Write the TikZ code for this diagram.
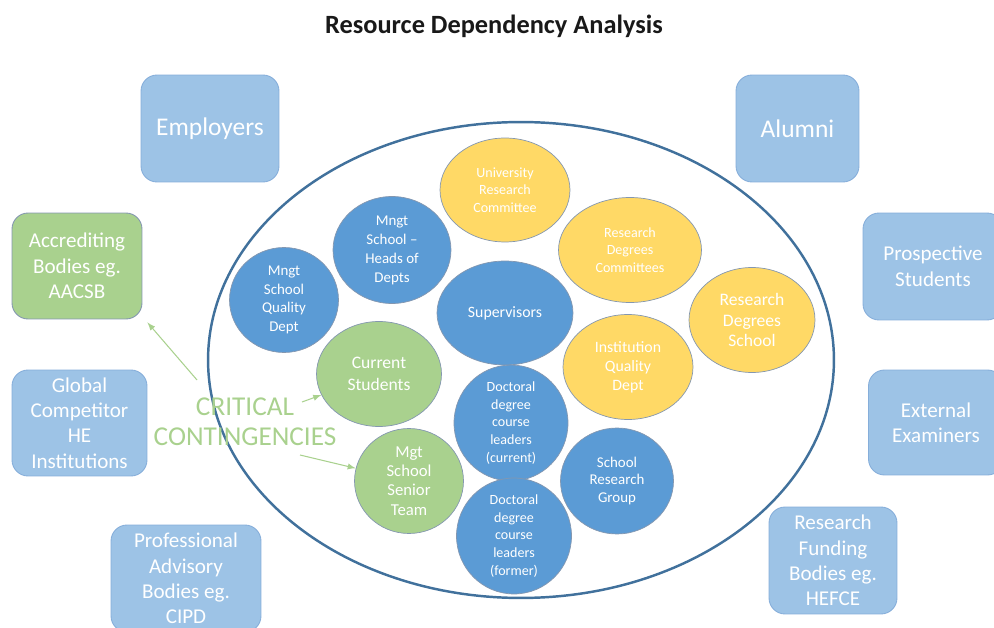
\documentclass[tikz,border=0pt]{standalone}
\usepackage{fontspec}
\setmainfont{Carlito}
\usetikzlibrary{shapes.geometric}
\definecolor{boxblue}{HTML}{9DC3E6}
\definecolor{boxline}{HTML}{86AEDA}
\definecolor{midblue}{HTML}{5B9BD5}
\definecolor{darkblue}{HTML}{41719C}
\definecolor{softgreen}{HTML}{A9D18E}
\definecolor{softyellow}{HTML}{FFD966}
\definecolor{rimline}{HTML}{8497B0}

\begin{document}
\begin{tikzpicture}[
        x=0.02cm, y=-0.02cm,
        party/.style={rectangle, rounded corners=0.32cm, fill=boxblue, draw=boxline,
            line width=0.5pt, text=white, align=center, inner sep=0pt,
            minimum height=2.14cm, font=\fontsize{12}{14.5}\selectfont},
        unit/.style={ellipse, fill=midblue, draw=rimline, line width=0.4pt,
            text=white, align=center, inner sep=0pt},
        board/.style={unit, fill=softyellow},
        core/.style={unit, fill=softgreen},
        link/.style={-latex, draw=softgreen, line width=0.6pt},
    ]
        \useasboundingbox (0,0) rectangle (994,628);
        \clip (0,0) rectangle (994,628);

        \node[font=\fontsize{15}{18}\selectfont\bfseries, text=black!90] (title)
            at (494,26) {Resource Dependency Analysis};

        \node[party, minimum width=2.76cm, font=\fontsize{14.5}{17}\selectfont]
            (empl) at (210,128.5) {Employers};
        \node[party, minimum width=2.46cm, font=\fontsize{14.5}{17}\selectfont]
            (alum) at (797.5,128.5) {Alumni};
        \node[party, fill=softgreen, draw=rimline, minimum width=2.6cm, minimum height=2.12cm]
            (accr) at (77,266) {Accrediting\\Bodies eg.\\AACSB};
        \node[party, minimum width=2.7cm, minimum height=2.12cm]
            (glob) at (79.5,423) {Global\\Competitor\\HE\\Institutions};
        \node[party, minimum width=3cm] (prof) at (186,578.5)
            {Professional\\Advisory\\Bodies eg.\\CIPD};
        \node[party, minimum width=2.56cm] (fund) at (833,560.5)
            {Research\\Funding\\Bodies eg.\\HEFCE};
        \node[party, minimum width=2.8cm] (pros) at (933,266.5) {Prospective\\Students};
        \node[party, minimum width=2.7cm, minimum height=2.1cm]
            (exam) at (936,422.5) {External\\Examiners};

        \node[ellipse, draw=darkblue, line width=1.4pt, inner sep=0pt,
            minimum width=12.52cm, minimum height=9.52cm] (org) at (521,360) {};

        \node[board, minimum width=2.6cm, minimum height=2.08cm, font=\fontsize{8}{10}\selectfont]
            (urc) at (505,190) {University\\Research\\Committee};
        \node[unit, minimum width=2.36cm, minimum height=2.14cm, font=\fontsize{8.5}{10.8}\selectfont]
            (hod) at (392,250) {Mngt\\School --\\Heads of\\Depts};
        \node[unit, minimum width=2.18cm, minimum height=2.1cm, font=\fontsize{8.5}{10.6}\selectfont]
            (sqd) at (284,300) {Mngt\\School\\Quality\\Dept};
        \node[unit, minimum width=2.72cm, minimum height=2.08cm, font=\fontsize{9}{11}\selectfont]
            (sup) at (505,313) {Supervisors};
        \node[core, minimum width=2.5cm, minimum height=2.1cm, font=\fontsize{10}{12.5}\selectfont]
            (cur) at (379,374) {Current\\Students};
        \node[board, minimum width=2.86cm, minimum height=2.1cm, font=\fontsize{8}{10}\selectfont]
            (rdc) at (630,250) {Research\\Degrees\\Committees};
        \node[board, minimum width=2.52cm, minimum height=2.1cm, font=\fontsize{10}{11.8}\selectfont]
            (rds) at (752,320) {Research\\Degrees\\School};
        \node[board, minimum width=2.6cm, minimum height=2.1cm, font=\fontsize{9}{10.8}\selectfont]
            (iqd) at (628,367) {Institution\\Quality\\Dept};
        \node[unit, minimum width=2.28cm, minimum height=2.12cm, font=\fontsize{8}{10}\selectfont]
            (dcc) at (511,423) {Doctoral\\degree\\course\\leaders\\(current)};
        \node[unit, minimum width=2.26cm, minimum height=2.12cm, font=\fontsize{8.5}{10.2}\selectfont]
            (srg) at (617,481) {School\\Research\\Group};
        \node[core, minimum width=2.18cm, minimum height=2.1cm, font=\fontsize{9.5}{11}\selectfont]
            (sst) at (409,481) {Mgt\\School\\Senior\\Team};
        \node[unit, minimum width=2.3cm, minimum height=2.12cm, font=\fontsize{8}{10}\selectfont]
            (dcf) at (514,536) {Doctoral\\degree\\course\\leaders\\(former)};

        \node[text=softgreen, align=center, inner sep=0pt, font=\fontsize{15.5}{17}\selectfont]
            (cc) at (245,422) {CRITICAL\\CONTINGENCIES};
        \coordinate (c1) at (197,380);
        \coordinate (c2) at (302,402);
        \coordinate (c3) at (300,455);

        \draw[link] (c1) to ([xshift=0.1cm, yshift=-0.06cm]accr.south east);
        \draw[link] (c2) to (cur);
        \draw[link] (c3) to (sst);
    \end{tikzpicture}
\end{document}
